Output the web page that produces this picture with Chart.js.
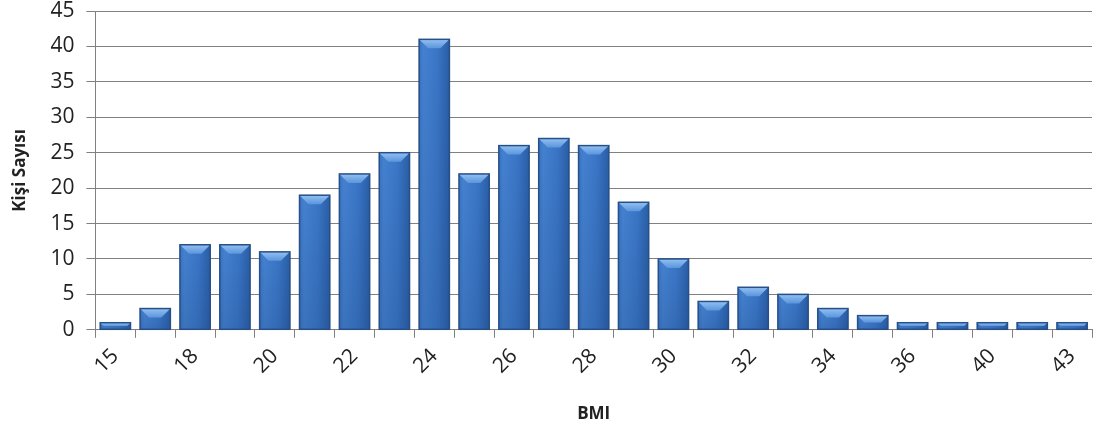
<!DOCTYPE html>
<html>
<head>
    <meta charset="UTF-8">
    <title>BMI</title>
    <style>
        html, body { margin: 0; padding: 0; background: #fff; }
        #wrap { width: 1096px; height: 434px; }
    </style>
    <script src="https://cdn.jsdelivr.net/npm/chart.js@4"></script>
</head>
<body>
<div id="wrap"><canvas id="bmiChart" width="1096" height="434"></canvas></div>
<script>
    // BMI categories (every other one is labelled on the axis)
    const bmiLabels = ['15', '17', '18', '19', '20', '21', '22', '23', '24', '25', '26', '27', '28',
                       '29', '30', '31', '32', '33', '34', '35', '36', '38', '40', '42', '43'];
    // number of people per BMI value
    const personCounts = [1, 3, 12, 12, 11, 19, 22, 25, 41, 22, 26, 27, 26,
                          18, 10, 4, 6, 5, 3, 2, 1, 1, 1, 1, 1];
    const yTicks = [0, 5, 10, 15, 20, 25, 30, 35, 40, 45];

    const tickFont = { family: 'Open Sans', size: 21 };
    const titleFont = { family: 'Open Sans', size: 17, weight: 'bold' };

    // gives the bars the shaded, bevelled look of the original
    const bevelBars = {
        id: 'bevelBars',
        afterDatasetsDraw(chart) {
            const ctx = chart.ctx;
            chart.getDatasetMeta(0).data.forEach(bar => {
                const left = bar.x - bar.width / 2;
                const right = bar.x + bar.width / 2;
                const top = bar.y;
                const bottom = bar.base;
                const h = bottom - top;
                if (h <= 0) return;

                ctx.save();
                const g = ctx.createLinearGradient(left, 0, right, 0);
                g.addColorStop(0, '#3a74c2');
                g.addColorStop(0.15, '#4481d0');
                g.addColorStop(0.6, '#3a76c6');
                g.addColorStop(1, '#2a5ea6');
                ctx.fillStyle = g;
                ctx.fillRect(left, top, right - left, h);

                // slightly darker towards the base
                const v = ctx.createLinearGradient(0, top, 0, bottom);
                v.addColorStop(0, 'rgba(20,50,100,0)');
                v.addColorStop(1, 'rgba(20,50,100,0.18)');
                ctx.fillStyle = v;
                ctx.fillRect(left, top, right - left, h);

                // top bevel
                const b = Math.min(9, h / 2);
                const bg = ctx.createLinearGradient(0, top, 0, top + b);
                bg.addColorStop(0, '#93c1f2');
                bg.addColorStop(1, '#5b95dc');
                ctx.fillStyle = bg;
                ctx.beginPath();
                ctx.moveTo(left, top);
                ctx.lineTo(right, top);
                ctx.lineTo(right - b, top + b);
                ctx.lineTo(left + b, top + b);
                ctx.closePath();
                ctx.fill();

                ctx.strokeStyle = '#274f88';
                ctx.lineWidth = 1.5;
                ctx.strokeRect(left, top, right - left, h);
                ctx.restore();
            });
        }
    };

    new Chart(document.getElementById('bmiChart'), {
        type: 'bar',
        data: {
            labels: bmiLabels,
            datasets: [{
                data: personCounts,
                backgroundColor: '#3a76c6',
                borderColor: '#274f88',
                borderWidth: 1,
                barPercentage: 0.76,
                categoryPercentage: 1.0
            }]
        },
        options: {
            responsive: false,
            animation: false,
            layout: { padding: { top: 0, right: 4, bottom: 10, left: 10 } },
            plugins: {
                legend: { display: false },
                tooltip: { enabled: false }
            },
            scales: {
                x: {
                    grid: {
                        display: true,
                        drawOnChartArea: false,
                        drawTicks: true,
                        tickLength: 8,
                        color: '#808080',
                        offset: true
                    },
                    border: { display: true, color: '#808080', width: 1 },
                    ticks: {
                        autoSkip: false,
                        maxRotation: 45,
                        minRotation: 45,
                        color: '#222',
                        font: tickFont,
                        padding: 6,
                        callback: function (value, index) {
                            return index % 2 === 0 ? bmiLabels[index] : '';
                        }
                    },
                    title: {
                        display: true,
                        text: 'BMI',
                        color: '#222',
                        font: titleFont,
                        padding: { top: 19, bottom: 0 }
                    }
                },
                y: {
                    min: 0,
                    max: 45,
                    afterBuildTicks: axis => { axis.ticks = yTicks.map(v => ({ value: v })); },
                    // keep the top of the plot close to the edge like the original
                    afterFit: axis => { axis.paddingTop = 11; axis.paddingBottom = 0; },
                    grid: {
                        color: '#808080',
                        lineWidth: 1,
                        drawTicks: true,
                        tickLength: 9
                    },
                    border: { display: true, color: '#808080', width: 1 },
                    ticks: {
                        color: '#222',
                        font: tickFont,
                        padding: 12
                    },
                    title: {
                        display: true,
                        text: 'Kişi Sayısı',
                        color: '#222',
                        font: titleFont,
                        padding: { top: 0, bottom: 8 }
                    }
                }
            }
        },
        plugins: [bevelBars]
    });
</script>
</body>
</html>
